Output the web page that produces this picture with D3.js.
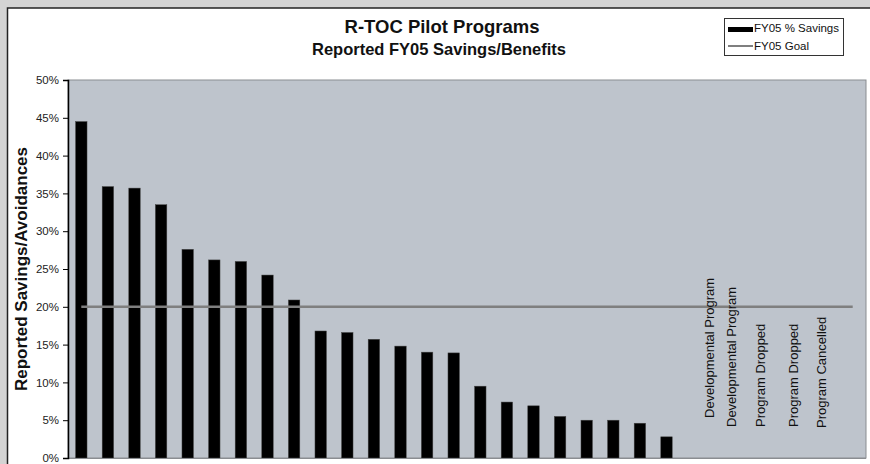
<!DOCTYPE html>
<html>
<head>
  <meta charset="utf-8">
  <script src="https://cdnjs.cloudflare.com/ajax/libs/d3/7.8.5/d3.min.js"></script>
</head>
<style media="screen">
  body {
    margin: 0;
    background: #d3d3d3;
  }
  svg {
    display: block;
    font-family: "Liberation Sans", Arial, sans-serif;
  }
  .tick text {
    font-size: 11.5px;
    fill: #222;
  }
  .note {
    font-size: 13px;
    fill: #111;
  }
</style>
<body>
<script type="text/javascript">
// programs along the x axis (30 slots, the last ones have no reported value)
var programs = ["P01", "P02", "P03", "P04", "P05", "P06", "P07", "P08", "P09", "P10",
                "P11", "P12", "P13", "P14", "P15", "P16", "P17", "P18", "P19", "P20",
                "P21", "P22", "P23", "P24", "P25", "P26", "P27", "P28", "P29", "P30"];

// FY05 % savings, in percent, for the first 23 programs
var savings = [44.5, 35.9, 35.7, 33.5, 27.6, 26.2, 26.0, 24.2, 20.9, 16.8,
               16.6, 15.7, 14.8, 14.0, 13.9, 9.5, 7.4, 6.9, 5.5, 5.0,
               5.0, 4.6, 2.8];

var goal = 20;

var yTicks = [0, 5, 10, 15, 20, 25, 30, 35, 40, 45, 50];

// status notes written in the empty slots
var noteProgram = ["P25", "P26", "P27", "P28", "P29"];
var noteText = ["Developmental Program", "Developmental Program", "Program Dropped",
                "Program Dropped", "Program Cancelled"];

var W = 870, H = 464;
var plot = {left: 68, right: 866, top: 80, bottom: 458};

var svg = d3.select("body").append("svg")
    .attr("width", W)
    .attr("height", H);

// white chart panel on the grey page
svg.append("rect")
    .attr("x", 7.5).attr("y", 8)
    .attr("width", W).attr("height", H)
    .attr("fill", "#fff")
    .attr("stroke", "#222")
    .attr("stroke-width", 1.5);

var x = d3.scaleBand()
    .domain(programs)
    .range([plot.left, plot.right]);

var y = d3.scaleLinear()
    .domain([0, 50])
    .range([plot.bottom, plot.top]);

// plot area
svg.append("rect")
    .attr("x", plot.left).attr("y", plot.top)
    .attr("width", plot.right - plot.left)
    .attr("height", plot.bottom - plot.top)
    .attr("fill", "#bec4cc")
    .attr("stroke", "#8a8d91")
    .attr("stroke-width", 1);

// bars
var barW = x.bandwidth() * 0.43;
svg.append("g")
  .selectAll("rect")
  .data(savings)
  .enter().append("rect")
    .attr("x", (d, i) => x(programs[i]) + x.bandwidth() / 2 - barW / 2)
    .attr("y", (d) => y(d))
    .attr("width", barW)
    .attr("height", (d) => y(0) - y(d))
    .attr("fill", "#000")
    .attr("stroke", "#444")
    .attr("stroke-width", 0.5);

// goal line, from first to last category centre
var goalLine = d3.line()
    .x((d) => x(d) + x.bandwidth() / 2)
    .y(() => y(goal));

svg.append("path")
    .datum(programs)
    .attr("d", goalLine)
    .attr("fill", "none")
    .attr("stroke", "#7f7f7f")
    .attr("stroke-width", 2.5);

// notes (rotated)
var noteNudge = [-6, -10, -8, -2, 0];
var noteBottom = [418, 427, 427, 427, 428];
svg.append("g")
  .selectAll("text")
  .data(noteText)
  .enter().append("text")
    .attr("class", "note")
    .attr("transform", (d, i) => "translate(" +
        (x(noteProgram[i]) + x.bandwidth() / 2 + noteNudge[i]) + "," + noteBottom[i] + ") rotate(-90)")
    .text((d) => d);

// x axis line
svg.append("line")
    .attr("x1", plot.left).attr("x2", plot.right)
    .attr("y1", plot.bottom + 0.5).attr("y2", plot.bottom + 0.5)
    .attr("stroke", "#8a8d91");

// y axis
var yAxis = svg.append("g")
    .attr("transform", "translate(" + plot.left + ",0)")
    .call(d3.axisLeft(y).tickValues(yTicks).tickSize(5).tickPadding(4)
        .tickFormat((d) => d + "%"));
yAxis.select(".domain").attr("stroke", "#000").attr("stroke-width", 1.5);
yAxis.selectAll(".tick line").attr("stroke", "#000");

svg.append("text")
    .attr("transform", "translate(27," + (plot.top + plot.bottom) / 2 + ") rotate(-90)")
    .style("text-anchor", "middle")
    .style("font-weight", "bold")
    .style("font-size", "17px")
    .attr("fill", "#111")
    .text("Reported Savings/Avoidances");

// titles
svg.append("text")
    .attr("x", 442).attr("y", 33)
    .style("text-anchor", "middle")
    .style("font-weight", "bold")
    .style("font-size", "18.5px")
    .attr("fill", "#111")
    .text("R-TOC Pilot Programs");

svg.append("text")
    .attr("x", 439).attr("y", 55)
    .style("text-anchor", "middle")
    .style("font-weight", "bold")
    .style("font-size", "16.5px")
    .attr("fill", "#111")
    .text("Reported FY05 Savings/Benefits");

// legend
var legend = svg.append("g").attr("transform", "translate(724,18)");
legend.append("rect")
    .attr("x", 0.5).attr("y", 0.5)
    .attr("width", 119).attr("height", 37)
    .attr("fill", "#fff")
    .attr("stroke", "#333");
legend.append("rect")
    .attr("x", 4).attr("y", 9)
    .attr("width", 25).attr("height", 5)
    .attr("fill", "#000");
legend.append("text")
    .attr("x", 30).attr("y", 14)
    .style("font-size", "11.5px")
    .attr("fill", "#111")
    .text("FY05 % Savings");
legend.append("line")
    .attr("x1", 4).attr("x2", 29)
    .attr("y1", 28).attr("y2", 28)
    .attr("stroke", "#7f7f7f")
    .attr("stroke-width", 2);
legend.append("text")
    .attr("x", 30).attr("y", 31.5)
    .style("font-size", "11.5px")
    .attr("fill", "#111")
    .text("FY05 Goal");
</script>
</body>
</html>
